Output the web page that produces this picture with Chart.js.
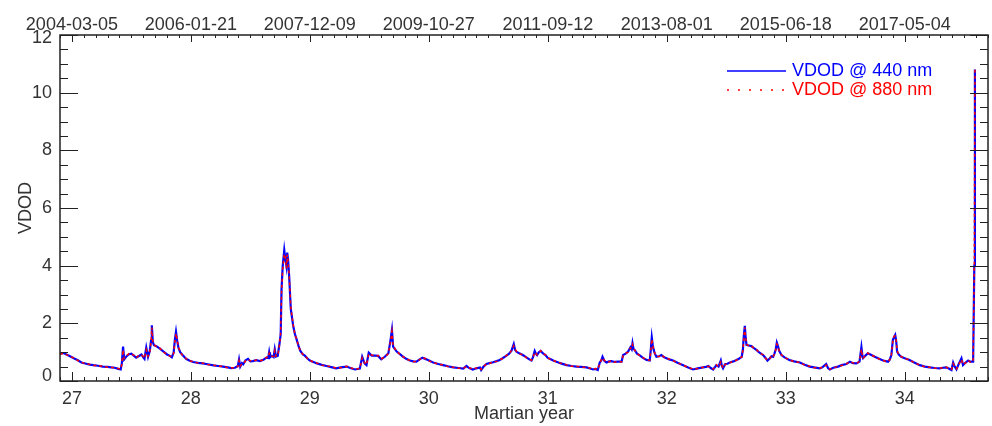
<!DOCTYPE html>
<html>
<head>
<meta charset="utf-8">
<script src="https://cdn.jsdelivr.net/npm/chart.js@4.4.0/dist/chart.umd.min.js"></script>
<style>
  html, body { margin: 0; padding: 0; background: #fff; }
</style>
</head>
<body>
<canvas id="c" width="992" height="426"></canvas>
<script>
// Martian year of each sample
const years = [
  26.90,26.93,26.98,27.02,27.05,27.08,27.12,27.15,27.18,27.22,
  27.26,27.30,27.33,27.36,27.39,27.41,27.42,27.43,27.44,27.46,
  27.48,27.50,27.52,27.54,27.56,27.585,27.60,27.61,27.625,27.64,
  27.655,27.665,27.672,27.68,27.69,27.71,27.74,27.77,27.80,27.82,
  27.84,27.855,27.866,27.875,27.885,27.895,27.91,27.93,27.96,27.99,
  28.02,28.06,28.10,28.14,28.19,28.23,28.27,28.31,28.34,28.37,
  28.395,28.405,28.415,28.43,28.44,28.46,28.48,28.50,28.52,28.55,
  28.58,28.61,28.635,28.65,28.658,28.665,28.68,28.695,28.705,28.715,
  28.73,28.745,28.755,28.762,28.772,28.785,28.795,28.803,28.81,28.817,
  28.826,28.84,28.86,28.875,28.888,28.905,28.92,28.94,28.96,28.98,
  29.00,29.03,29.06,29.10,29.14,29.18,29.22,29.26,29.31,29.34,
  29.38,29.42,29.44,29.46,29.476,29.495,29.52,29.55,29.574,29.60,
  29.63,29.66,29.678,29.69,29.70,29.73,29.76,29.784,29.81,29.84,
  29.87,29.896,29.92,29.946,29.98,30.01,30.036,30.08,30.12,30.16,
  30.205,30.25,30.29,30.316,30.34,30.37,30.40,30.43,30.44,30.46,
  30.485,30.51,30.54,30.57,30.596,30.62,30.65,30.675,30.695,30.714,
  30.725,30.737,30.76,30.79,30.82,30.845,30.863,30.875,30.89,30.90,
  30.91,30.925,30.94,30.96,30.98,31.00,31.02,31.05,31.073,31.11,
  31.157,31.20,31.24,31.28,31.325,31.35,31.38,31.40,31.42,31.437,
  31.45,31.46,31.475,31.493,31.515,31.535,31.56,31.59,31.62,31.633,
  31.655,31.675,31.695,31.705,31.712,31.72,31.73,31.75,31.773,31.80,
  31.83,31.857,31.866,31.874,31.882,31.89,31.90,31.913,31.935,31.955,
  31.975,31.997,32.02,32.053,32.09,32.138,32.18,32.22,32.26,32.305,
  32.33,32.35,32.37,32.39,32.405,32.417,32.435,32.454,32.463,32.473,
  32.49,32.51,32.53,32.56,32.586,32.61,32.63,32.64,32.647,32.656,
  32.663,32.67,32.69,32.71,32.73,32.753,32.78,32.81,32.83,32.846,
  32.865,32.88,32.894,32.905,32.916,32.925,32.935,32.945,32.964,32.99,
  33.03,33.07,33.118,33.16,33.20,33.24,33.286,33.31,33.34,33.355,
  33.37,33.40,33.44,33.47,33.51,33.54,33.565,33.594,33.62,33.636,
  33.645,33.65,33.67,33.69,33.72,33.748,33.78,33.818,33.84,33.86,
  33.875,33.888,33.90,33.91,33.92,33.928,33.936,33.95,33.97,34.00,
  34.04,34.08,34.126,34.17,34.21,34.25,34.294,34.32,34.35,34.37,
  34.393,34.407,34.42,34.435,34.455,34.477,34.49,34.51,34.533,34.55,
  34.575,34.585,34.59
];

// VDOD @ 440 nm
const vdod440 = [
  0.95,0.97,0.87,0.78,0.72,0.64,0.60,0.57,0.55,0.53,
  0.50,0.49,0.47,0.46,0.42,0.40,0.62,1.19,0.75,0.86,
  0.93,0.95,0.88,0.81,0.86,0.92,0.82,0.77,1.16,0.84,
  1.05,1.40,1.93,1.35,1.24,1.21,1.12,1.02,0.92,0.88,
  0.82,0.98,1.45,1.71,1.40,1.16,1.00,0.90,0.77,0.70,
  0.66,0.63,0.61,0.58,0.54,0.52,0.50,0.47,0.45,0.46,
  0.52,0.75,0.50,0.62,0.58,0.72,0.77,0.68,0.69,0.72,
  0.69,0.74,0.81,0.80,1.00,0.82,0.87,0.83,1.10,0.85,
  0.87,1.30,1.62,3.18,3.99,4.54,4.20,3.99,4.45,4.20,
  3.64,2.49,1.91,1.62,1.45,1.22,1.04,0.93,0.87,0.78,
  0.71,0.66,0.61,0.56,0.52,0.48,0.44,0.47,0.50,0.45,
  0.40,0.43,0.84,0.61,0.55,0.98,0.88,0.88,0.87,0.75,
  0.84,0.96,1.42,1.77,1.19,1.02,0.92,0.84,0.77,0.71,
  0.68,0.67,0.74,0.81,0.75,0.69,0.64,0.59,0.55,0.51,
  0.47,0.45,0.43,0.52,0.45,0.40,0.44,0.47,0.38,0.50,
  0.59,0.62,0.65,0.69,0.73,0.79,0.87,0.95,1.05,1.28,
  1.08,1.02,0.96,0.90,0.82,0.75,0.71,0.82,1.04,0.95,
  0.90,1.00,1.04,0.96,0.90,0.80,0.76,0.70,0.67,0.61,
  0.55,0.52,0.50,0.49,0.47,0.44,0.40,0.42,0.38,0.64,
  0.72,0.84,0.70,0.64,0.68,0.69,0.66,0.67,0.67,0.90,
  0.95,1.02,1.17,1.10,1.31,1.12,1.08,0.95,0.89,0.80,
  0.73,0.71,1.10,1.51,1.25,1.08,0.95,0.84,0.86,0.90,
  0.83,0.79,0.75,0.71,0.63,0.55,0.47,0.40,0.44,0.47,
  0.49,0.52,0.45,0.40,0.48,0.55,0.50,0.71,0.52,0.44,
  0.58,0.60,0.64,0.68,0.73,0.78,0.84,1.10,1.54,1.91,
  1.50,1.25,1.23,1.21,1.15,1.08,0.98,0.90,0.80,0.71,
  0.78,0.86,0.84,0.95,1.10,1.33,1.20,1.05,0.90,0.82,
  0.73,0.68,0.64,0.56,0.50,0.47,0.44,0.48,0.59,0.45,
  0.40,0.46,0.50,0.55,0.59,0.67,0.62,0.61,0.67,1.17,
  0.85,0.79,0.88,0.96,0.90,0.84,0.78,0.71,0.69,0.67,
  0.75,0.90,1.42,1.52,1.60,1.40,1.02,0.92,0.84,0.79,
  0.73,0.64,0.55,0.50,0.47,0.45,0.44,0.46,0.47,0.43,
  0.38,0.64,0.50,0.40,0.60,0.79,0.55,0.63,0.71,0.67,
  0.67,4.0,10.8
];

// VDOD @ 880 nm
const vdod880 = [
  0.93,0.96,0.86,0.79,0.71,0.65,0.59,0.58,0.54,0.54,
  0.51,0.48,0.48,0.45,0.43,0.41,0.58,1.08,0.78,0.88,
  0.95,0.93,0.90,0.80,0.88,0.90,0.84,0.79,1.08,0.86,
  1.02,1.35,1.85,1.38,1.26,1.19,1.14,1.00,0.93,0.87,
  0.84,0.95,1.38,1.65,1.42,1.18,1.02,0.88,0.78,0.69,
  0.67,0.62,0.62,0.57,0.55,0.51,0.51,0.46,0.46,0.45,
  0.50,0.70,0.52,0.60,0.60,0.70,0.75,0.70,0.68,0.73,
  0.70,0.73,0.82,0.81,0.95,0.84,0.86,0.85,1.05,0.86,
  0.88,1.25,1.70,3.05,3.90,4.40,4.30,3.90,4.38,4.15,
  3.70,2.55,1.95,1.60,1.47,1.20,1.06,0.92,0.88,0.77,
  0.72,0.65,0.62,0.55,0.53,0.49,0.45,0.46,0.51,0.46,
  0.41,0.44,0.80,0.63,0.56,0.95,0.90,0.87,0.88,0.77,
  0.83,0.95,1.38,1.72,1.22,1.03,0.91,0.85,0.76,0.72,
  0.67,0.68,0.73,0.82,0.76,0.68,0.65,0.58,0.56,0.50,
  0.48,0.44,0.44,0.50,0.46,0.41,0.45,0.46,0.40,0.49,
  0.60,0.61,0.66,0.68,0.74,0.78,0.88,0.94,1.06,1.22,
  1.10,1.03,0.95,0.91,0.81,0.76,0.72,0.80,1.00,0.97,
  0.91,0.98,1.05,0.95,0.91,0.81,0.75,0.71,0.66,0.62,
  0.56,0.51,0.51,0.48,0.48,0.45,0.41,0.43,0.40,0.60,
  0.74,0.80,0.72,0.65,0.67,0.70,0.65,0.68,0.66,0.88,
  0.96,1.00,1.15,1.12,1.26,1.14,1.07,0.96,0.88,0.81,
  0.74,0.72,1.05,1.45,1.28,1.06,0.96,0.85,0.85,0.91,
  0.84,0.78,0.76,0.70,0.64,0.54,0.48,0.41,0.43,0.48,
  0.48,0.51,0.46,0.41,0.47,0.56,0.49,0.66,0.54,0.45,
  0.57,0.61,0.63,0.69,0.72,0.79,0.83,1.05,1.48,1.85,
  1.52,1.27,1.22,1.23,1.14,1.09,0.97,0.91,0.79,0.72,
  0.77,0.87,0.83,0.96,1.08,1.28,1.22,1.04,0.91,0.81,
  0.74,0.67,0.65,0.55,0.51,0.46,0.45,0.47,0.55,0.46,
  0.41,0.45,0.51,0.54,0.60,0.66,0.63,0.60,0.68,1.10,
  0.87,0.80,0.87,0.97,0.89,0.85,0.77,0.72,0.68,0.68,
  0.74,0.92,1.38,1.55,1.56,1.42,1.05,0.91,0.85,0.78,
  0.74,0.63,0.56,0.49,0.48,0.44,0.45,0.45,0.48,0.42,
  0.40,0.60,0.51,0.42,0.58,0.75,0.57,0.62,0.72,0.66,
  0.68,4.0,10.8
];

// axis ticks
const yearTicks = [27, 28, 29, 30, 31, 32, 33, 34];
const dateLabels = ['2004-03-05', '2006-01-21', '2007-12-09', '2009-10-27',
                    '2011-09-12', '2013-08-01', '2015-06-18', '2017-05-04'];
const vdodTicks = [0, 2, 4, 6, 8, 10, 12];

const X_MIN = 26.9, X_MAX = 34.7;
const FONT = { family: 'Liberation Sans, Arial, sans-serif', size: 18 };
const INK = '#333';

const toXY = vals => vals.map((v, i) => ({ x: years[i], y: v }));
const fixTicks = list => scale => { scale.ticks = list.map(v => ({ value: v })); };

// box, inward ticks, y labels kept inside the box, legend - IDL style
const framePlugin = {
  id: 'frame',
  afterDraw(chart) {
    const { ctx, chartArea: a, scales: { x, y } } = chart;
    ctx.save();
    ctx.strokeStyle = '#222';
    ctx.lineWidth = 1.5;
    ctx.strokeRect(a.left, a.top, a.right - a.left, a.bottom - a.top);

    ctx.lineWidth = 1;
    ctx.beginPath();
    for (let i = 0; i <= 78; i++) {
      const v = X_MIN + i * 0.1;
      const major = Math.abs(v - Math.round(v)) < 0.01;
      const px = Math.round(x.getPixelForValue(v)) + 0.5;
      const bot = major ? 9 : 4, top = major ? 7 : 3;
      ctx.moveTo(px, a.bottom); ctx.lineTo(px, a.bottom - bot);
      ctx.moveTo(px, a.top); ctx.lineTo(px, a.top + top);
    }
    for (let i = 0; i <= 24; i++) {
      const v = i * 0.5;
      const major = i % 4 === 0;
      const py = Math.round(y.getPixelForValue(v)) + 0.5;
      const len = major ? 18 : 8;
      ctx.moveTo(a.left, py); ctx.lineTo(a.left + len, py);
      ctx.moveTo(a.right, py); ctx.lineTo(a.right - len, py);
    }
    ctx.stroke();

    ctx.font = `${FONT.size}px ${FONT.family}`;
    ctx.textBaseline = 'middle';
    ctx.fillStyle = INK;
    ctx.textAlign = 'right';
    vdodTicks.forEach(v => {
      const py = Math.min(Math.max(y.getPixelForValue(v), a.top + 3), a.bottom - 5);
      ctx.fillText(String(v), a.left - 8, py);
    });

    // legend
    ctx.textAlign = 'left';
    ctx.lineWidth = 1.5;
    ctx.strokeStyle = '#0000ff';
    ctx.beginPath(); ctx.moveTo(727, 71); ctx.lineTo(786, 71); ctx.stroke();
    ctx.fillStyle = '#0000ff';
    ctx.fillText('VDOD @ 440 nm', 792, 71);
    ctx.strokeStyle = '#ff0000';
    ctx.setLineDash([2, 9]);
    ctx.beginPath(); ctx.moveTo(727, 90); ctx.lineTo(786, 90); ctx.stroke();
    ctx.setLineDash([]);
    ctx.fillStyle = '#ff0000';
    ctx.fillText('VDOD @ 880 nm', 792, 90);
    ctx.restore();
  }
};

new Chart(document.getElementById('c'), {
  type: 'line',
  data: {
    datasets: [
      {
        label: 'VDOD @ 880 nm',
        data: toXY(vdod880),
        borderColor: '#ff0000',
        borderWidth: 1.5,
        borderDash: [3, 3],
        pointRadius: 0,
        tension: 0,
        order: 0
      },
      {
        label: 'VDOD @ 440 nm',
        data: toXY(vdod440),
        borderColor: '#0000ff',
        borderWidth: 2.2,
        pointRadius: 0,
        tension: 0,
        order: 1
      }
    ]
  },
  options: {
    responsive: false,
    animation: false,
    layout: { padding: { top: 0, right: 4, bottom: 0, left: 0 } },
    plugins: { legend: { display: false }, tooltip: { enabled: false } },
    scales: {
      x: {
        type: 'linear', position: 'bottom', min: X_MIN, max: X_MAX,
        grid: { display: false, drawTicks: false }, border: { display: false },
        afterBuildTicks: fixTicks(yearTicks),
        afterFit: s => { s.height = 45; },
        ticks: { font: FONT, color: INK, padding: 7, autoSkip: false, maxRotation: 0 },
        title: { display: true, text: 'Martian year', font: FONT, color: INK, padding: { top: 0, bottom: 1 } }
      },
      x2: {
        type: 'linear', position: 'top', min: X_MIN, max: X_MAX,
        grid: { display: false, drawTicks: false }, border: { display: false },
        afterBuildTicks: fixTicks(yearTicks),
        afterFit: s => { s.height = 35; },
        ticks: {
          font: FONT, color: INK, padding: -1, autoSkip: false, maxRotation: 0,
          callback: (v, i) => dateLabels[i]
        }
      },
      y: {
        type: 'linear', position: 'left', min: 0, max: 12,
        grid: { display: false, drawTicks: false }, border: { display: false },
        afterBuildTicks: fixTicks(vdodTicks),
        afterFit: s => { s.width = 60; },
        ticks: { display: false },
        title: { display: true, text: 'VDOD', font: FONT, color: INK, padding: { top: 15, bottom: 0 } }
      }
    }
  },
  plugins: [framePlugin]
});
</script>
</body>
</html>
